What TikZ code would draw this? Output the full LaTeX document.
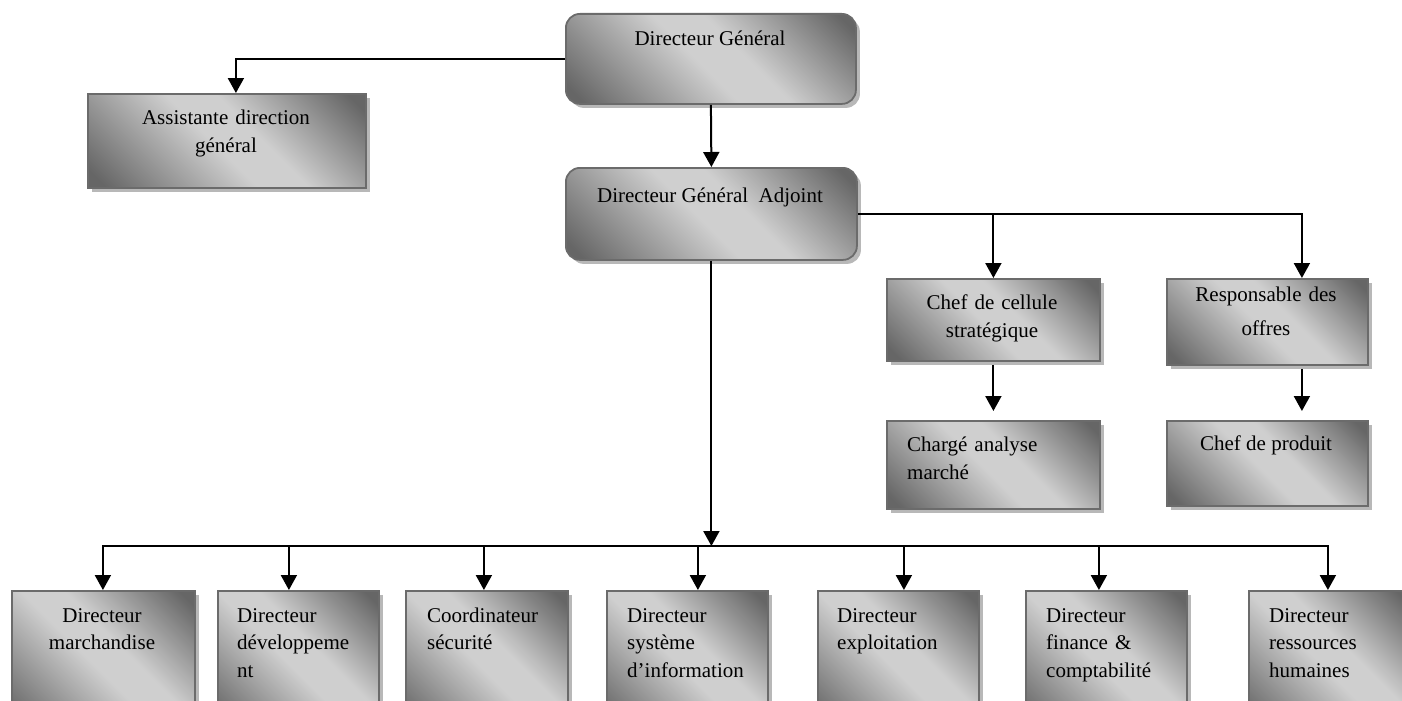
\documentclass[tikz,border=0pt]{standalone}
\usepackage{fontspec}
\setmainfont{Liberation Serif}
\usetikzlibrary{arrows.meta,shadows}

\definecolor{boxdark}{gray}{0.40}
\definecolor{boxlight}{gray}{0.81}
\definecolor{boxline}{gray}{0.42}
\definecolor{boxshadow}{gray}{0.72}

% diagonal grey fill: dark corners, light band across the middle
\pgfdeclarehorizontalshading{boxdiag}{100bp}{color(0bp)=(boxdark); color(18bp)=(boxdark); color(47bp)=(boxlight); color(57bp)=(boxlight); color(82bp)=(boxdark); color(100bp)=(boxdark)}

\begin{document}
\begin{tikzpicture}[x=1pt,y=-1pt,
  orgbox/.style={rectangle, draw=boxline, line width=1.8pt, shading=boxdiag, shading angle=45,
    inner sep=0pt, anchor=north west,
    drop shadow={shadow xshift=4pt, shadow yshift=-4pt, fill=boxshadow, opacity=1, draw=none}},
  roundbox/.style={orgbox, rounded corners=14pt},
  txt/.style={font=\fontsize{21}{28}\selectfont, inner sep=0pt},
  ctxt/.style={txt, text width=#1, align=center, anchor=base},
  ltxt/.style={txt, text width=170pt, align=left, anchor=base west},
  btxt/.style={font=\fontsize{21}{27.5}\selectfont, inner sep=0pt, text width=170pt, align=left, anchor=base west},
  conn/.style={line width=2pt},
  arr/.style={conn, -{Triangle[width=16pt,length=15pt]}}
]
\useasboundingbox (0,0) rectangle (1402,701);

% ---- boxes ----
\node[roundbox, minimum width=290pt, minimum height=90pt] (dg) at (565,13) {};
\node[orgbox, minimum width=278pt, minimum height=94pt] (asst) at (87,93) {};
\node[roundbox, minimum width=291pt, minimum height=92pt] (dga) at (565,167) {};
\node[orgbox, minimum width=213pt, minimum height=82pt] (chef) at (886,278) {};
\node[orgbox, minimum width=201pt, minimum height=86pt] (resp) at (1166,278) {};
\node[orgbox, minimum width=213pt, minimum height=88pt] (charge) at (886,420) {};
\node[orgbox, minimum width=201pt, minimum height=85pt] (prod) at (1166,420) {};

\node[orgbox, minimum width=183pt, minimum height=140pt] (b1) at (11,590) {};
\node[orgbox, minimum width=161pt, minimum height=140pt] (b2) at (217,590) {};
\node[orgbox, minimum width=162pt, minimum height=140pt] (b3) at (405,590) {};
\node[orgbox, minimum width=161pt, minimum height=140pt] (b4) at (606,590) {};
\node[orgbox, minimum width=161pt, minimum height=140pt] (b5) at (817,590) {};
\node[orgbox, minimum width=161pt, minimum height=140pt] (b6) at (1025,590) {};
\node[orgbox, minimum width=162pt, minimum height=140pt] (b7) at (1248,590) {};

% ---- labels ----
\node[txt, anchor=base] (dgt) at (710,46) {Directeur Général};
\node[ctxt=260pt] (asstt) at (226,124) {Assistante direction\\général};
\node[txt, anchor=base] (dgat) at (710,202) {Directeur Général\ \ Adjoint};
\node[ctxt=200pt] (cheft) at (992,309) {Chef de cellule\\stratégique};
\node[txt, text width=200pt, align=center, anchor=base, font=\fontsize{21}{34}\selectfont] (respt) at (1266,301) {Responsable des\\offres};
\node[ltxt] (charget) at (907,451) {Chargé analyse\\marché};
\node[txt, anchor=base] (prodt) at (1266,450) {Chef de produit};

\node[font=\fontsize{21}{27.5}\selectfont, inner sep=0pt, text width=175pt, align=center, anchor=base] (b1t) at (102,622) {Directeur\\marchandise};
\node[btxt] (b2t) at (237,622) {Directeur\\développeme\\nt};
\node[btxt] (b3t) at (427,622) {Coordinateur\\sécurité};
\node[btxt] (b4t) at (627,622) {Directeur\\système\\d’information};
\node[btxt] (b5t) at (837,622) {Directeur\\exploitation};
\node[btxt] (b6t) at (1046,622) {Directeur\\finance \&\\comptabilité};
\node[btxt] (b7t) at (1269,622) {Directeur\\ressources\\humaines};

% ---- connectors ----
\draw[arr] (dg.west) -| ([xshift=9pt]asst.north);
\draw[arr] (dg.south) -- (dga.north);

\draw[arr] (dga.east) -| ([xshift=34.5pt]resp.north);
\draw[arr] (chef.north |- dga.east) -- (chef.north);
\draw[arr, shorten <=3pt, shorten >=9pt] (chef.south) -- (charge.north);
\draw[arr, shorten <=3pt, shorten >=9pt] ([xshift=34.5pt]resp.south) -- ([xshift=34.5pt]prod.north);

\coordinate (bar) at (711,546);
\draw[arr] (dga.south) -- (dga.south |- bar);
\draw[arr] (bar) -| ([xshift=-0.5pt]b1.north);
\draw[arr] (bar) -| ([xshift=-2pt]b7.north);
\draw[arr] ([xshift=-9.5pt]b2.north |- bar) -- ([xshift=-9.5pt]b2.north);
\draw[arr] ([xshift=-3pt]b3.north |- bar) -- ([xshift=-3pt]b3.north);
\draw[arr] ([xshift=10.5pt]b4.north |- bar) -- ([xshift=10.5pt]b4.north);
\draw[arr] ([xshift=5.5pt]b5.north |- bar) -- ([xshift=5.5pt]b5.north);
\draw[arr] ([xshift=-7.5pt]b6.north |- bar) -- ([xshift=-7.5pt]b6.north);
\end{tikzpicture}
\end{document}
